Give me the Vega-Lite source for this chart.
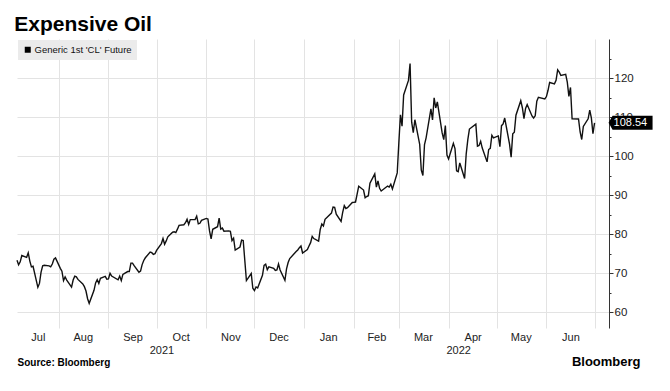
{
  "$schema": "https://vega.github.io/schema/vega-lite/v6.json",
  "width": 592,
  "height": 289,
  "autosize": "none",
  "padding": {"left": 17, "top": 39, "right": 61, "bottom": 63},
  "background": "white",
  "title": {"text": "Expensive Oil", "anchor": "start", "font": "Liberation Sans", "fontSize": 21, "fontWeight": "bold", "color": "#000", "offset": 4},
  "config": {"view": {"stroke": null}},
  "layer": [
    {
      "data": {"values": [
        {"date": "2021-07-06", "price": 73.37}, {"date": "2021-07-07", "price": 72.20}, {"date": "2021-07-08", "price": 72.94}, {"date": "2021-07-09", "price": 74.56}, {"date": "2021-07-12", "price": 74.10}, {"date": "2021-07-13", "price": 75.25}, {"date": "2021-07-14", "price": 73.13}, {"date": "2021-07-15", "price": 71.65}, {"date": "2021-07-16", "price": 71.81}, {"date": "2021-07-19", "price": 66.42}, {"date": "2021-07-20", "price": 67.42}, {"date": "2021-07-21", "price": 70.30}, {"date": "2021-07-22", "price": 71.91}, {"date": "2021-07-23", "price": 72.07}, {"date": "2021-07-26", "price": 71.91}, {"date": "2021-07-27", "price": 71.65}, {"date": "2021-07-28", "price": 72.39}, {"date": "2021-07-29", "price": 73.62}, {"date": "2021-07-30", "price": 73.95},
        {"date": "2021-08-02", "price": 71.26}, {"date": "2021-08-03", "price": 70.56}, {"date": "2021-08-04", "price": 68.15}, {"date": "2021-08-05", "price": 69.09}, {"date": "2021-08-06", "price": 68.28}, {"date": "2021-08-09", "price": 66.48}, {"date": "2021-08-10", "price": 68.29}, {"date": "2021-08-11", "price": 69.25}, {"date": "2021-08-12", "price": 69.09}, {"date": "2021-08-13", "price": 68.44}, {"date": "2021-08-16", "price": 67.29}, {"date": "2021-08-17", "price": 66.59}, {"date": "2021-08-18", "price": 65.46}, {"date": "2021-08-19", "price": 63.50}, {"date": "2021-08-20", "price": 62.32}, {"date": "2021-08-23", "price": 65.64}, {"date": "2021-08-24", "price": 67.54}, {"date": "2021-08-25", "price": 68.36}, {"date": "2021-08-26", "price": 67.42}, {"date": "2021-08-27", "price": 68.74}, {"date": "2021-08-30", "price": 69.21}, {"date": "2021-08-31", "price": 68.50},
        {"date": "2021-09-01", "price": 68.59}, {"date": "2021-09-02", "price": 69.99}, {"date": "2021-09-03", "price": 69.29}, {"date": "2021-09-07", "price": 68.35}, {"date": "2021-09-08", "price": 69.30}, {"date": "2021-09-09", "price": 68.14}, {"date": "2021-09-10", "price": 69.72}, {"date": "2021-09-13", "price": 70.45}, {"date": "2021-09-14", "price": 70.46}, {"date": "2021-09-15", "price": 72.61}, {"date": "2021-09-16", "price": 72.61}, {"date": "2021-09-17", "price": 71.97}, {"date": "2021-09-20", "price": 70.29}, {"date": "2021-09-21", "price": 70.56}, {"date": "2021-09-22", "price": 72.23}, {"date": "2021-09-23", "price": 73.30}, {"date": "2021-09-24", "price": 73.98}, {"date": "2021-09-27", "price": 75.45}, {"date": "2021-09-28", "price": 75.29}, {"date": "2021-09-29", "price": 74.83}, {"date": "2021-09-30", "price": 75.03},
        {"date": "2021-10-01", "price": 75.88}, {"date": "2021-10-04", "price": 77.62}, {"date": "2021-10-05", "price": 78.93}, {"date": "2021-10-06", "price": 77.43}, {"date": "2021-10-07", "price": 78.30}, {"date": "2021-10-08", "price": 79.35}, {"date": "2021-10-11", "price": 80.52}, {"date": "2021-10-12", "price": 80.64}, {"date": "2021-10-13", "price": 80.44}, {"date": "2021-10-14", "price": 81.31}, {"date": "2021-10-15", "price": 82.28}, {"date": "2021-10-18", "price": 82.44}, {"date": "2021-10-19", "price": 82.96}, {"date": "2021-10-20", "price": 83.87}, {"date": "2021-10-21", "price": 82.50}, {"date": "2021-10-22", "price": 83.76}, {"date": "2021-10-25", "price": 83.76}, {"date": "2021-10-26", "price": 84.65}, {"date": "2021-10-27", "price": 82.66}, {"date": "2021-10-28", "price": 82.81}, {"date": "2021-10-29", "price": 83.57},
        {"date": "2021-11-01", "price": 84.05}, {"date": "2021-11-02", "price": 83.91}, {"date": "2021-11-03", "price": 80.86}, {"date": "2021-11-04", "price": 78.81}, {"date": "2021-11-05", "price": 81.27}, {"date": "2021-11-08", "price": 81.93}, {"date": "2021-11-09", "price": 84.15}, {"date": "2021-11-10", "price": 81.34}, {"date": "2021-11-11", "price": 81.59}, {"date": "2021-11-12", "price": 80.79}, {"date": "2021-11-15", "price": 80.88}, {"date": "2021-11-16", "price": 80.76}, {"date": "2021-11-17", "price": 78.36}, {"date": "2021-11-18", "price": 79.01}, {"date": "2021-11-19", "price": 75.94}, {"date": "2021-11-22", "price": 76.75}, {"date": "2021-11-23", "price": 78.50}, {"date": "2021-11-24", "price": 78.39}, {"date": "2021-11-26", "price": 68.15}, {"date": "2021-11-29", "price": 69.95}, {"date": "2021-11-30", "price": 66.18},
        {"date": "2021-12-01", "price": 65.57}, {"date": "2021-12-02", "price": 66.50}, {"date": "2021-12-03", "price": 66.26}, {"date": "2021-12-06", "price": 69.49}, {"date": "2021-12-07", "price": 72.05}, {"date": "2021-12-08", "price": 72.36}, {"date": "2021-12-09", "price": 70.94}, {"date": "2021-12-10", "price": 71.67}, {"date": "2021-12-13", "price": 71.29}, {"date": "2021-12-14", "price": 70.73}, {"date": "2021-12-15", "price": 70.87}, {"date": "2021-12-16", "price": 72.38}, {"date": "2021-12-17", "price": 70.86}, {"date": "2021-12-20", "price": 68.23}, {"date": "2021-12-21", "price": 71.12}, {"date": "2021-12-22", "price": 72.76}, {"date": "2021-12-23", "price": 73.79}, {"date": "2021-12-27", "price": 75.57}, {"date": "2021-12-28", "price": 75.98}, {"date": "2021-12-29", "price": 76.56}, {"date": "2021-12-30", "price": 76.99}, {"date": "2021-12-31", "price": 75.21},
        {"date": "2022-01-03", "price": 76.08}, {"date": "2022-01-04", "price": 76.99}, {"date": "2022-01-05", "price": 77.85}, {"date": "2022-01-06", "price": 79.46}, {"date": "2022-01-07", "price": 78.90}, {"date": "2022-01-10", "price": 78.23}, {"date": "2022-01-11", "price": 81.22}, {"date": "2022-01-12", "price": 82.64}, {"date": "2022-01-13", "price": 82.12}, {"date": "2022-01-14", "price": 83.82}, {"date": "2022-01-18", "price": 85.43}, {"date": "2022-01-19", "price": 86.96}, {"date": "2022-01-20", "price": 86.90}, {"date": "2022-01-21", "price": 85.14}, {"date": "2022-01-24", "price": 83.31}, {"date": "2022-01-25", "price": 85.60}, {"date": "2022-01-26", "price": 87.35}, {"date": "2022-01-27", "price": 86.61}, {"date": "2022-01-28", "price": 86.82}, {"date": "2022-01-31", "price": 88.15},
        {"date": "2022-02-01", "price": 88.20}, {"date": "2022-02-02", "price": 88.26}, {"date": "2022-02-03", "price": 90.27}, {"date": "2022-02-04", "price": 92.31}, {"date": "2022-02-07", "price": 91.32}, {"date": "2022-02-08", "price": 89.36}, {"date": "2022-02-09", "price": 89.66}, {"date": "2022-02-10", "price": 89.88}, {"date": "2022-02-11", "price": 93.10}, {"date": "2022-02-14", "price": 95.46}, {"date": "2022-02-15", "price": 92.07}, {"date": "2022-02-16", "price": 93.66}, {"date": "2022-02-17", "price": 91.76}, {"date": "2022-02-18", "price": 91.07}, {"date": "2022-02-22", "price": 92.35}, {"date": "2022-02-23", "price": 92.10}, {"date": "2022-02-24", "price": 92.81}, {"date": "2022-02-25", "price": 91.59}, {"date": "2022-02-28", "price": 95.72},
        {"date": "2022-03-01", "price": 103.41}, {"date": "2022-03-02", "price": 110.60}, {"date": "2022-03-03", "price": 107.67}, {"date": "2022-03-04", "price": 115.68}, {"date": "2022-03-07", "price": 119.40}, {"date": "2022-03-08", "price": 123.70}, {"date": "2022-03-09", "price": 108.70}, {"date": "2022-03-10", "price": 106.02}, {"date": "2022-03-11", "price": 109.33}, {"date": "2022-03-14", "price": 103.01}, {"date": "2022-03-15", "price": 96.44}, {"date": "2022-03-16", "price": 95.04}, {"date": "2022-03-17", "price": 102.98}, {"date": "2022-03-18", "price": 104.70}, {"date": "2022-03-21", "price": 112.12}, {"date": "2022-03-22", "price": 109.27}, {"date": "2022-03-23", "price": 114.93}, {"date": "2022-03-24", "price": 112.34}, {"date": "2022-03-25", "price": 113.90}, {"date": "2022-03-28", "price": 105.96}, {"date": "2022-03-29", "price": 104.24}, {"date": "2022-03-30", "price": 107.82}, {"date": "2022-03-31", "price": 100.28},
        {"date": "2022-04-01", "price": 99.27}, {"date": "2022-04-04", "price": 103.28}, {"date": "2022-04-05", "price": 101.96}, {"date": "2022-04-06", "price": 96.23}, {"date": "2022-04-07", "price": 96.03}, {"date": "2022-04-08", "price": 98.26}, {"date": "2022-04-11", "price": 94.29}, {"date": "2022-04-12", "price": 100.60}, {"date": "2022-04-13", "price": 104.25}, {"date": "2022-04-14", "price": 106.95}, {"date": "2022-04-18", "price": 108.21}, {"date": "2022-04-19", "price": 102.56}, {"date": "2022-04-20", "price": 102.75}, {"date": "2022-04-21", "price": 103.79}, {"date": "2022-04-22", "price": 102.07}, {"date": "2022-04-25", "price": 98.54}, {"date": "2022-04-26", "price": 101.70}, {"date": "2022-04-27", "price": 102.02}, {"date": "2022-04-28", "price": 105.36}, {"date": "2022-04-29", "price": 104.69},
        {"date": "2022-05-02", "price": 105.17}, {"date": "2022-05-03", "price": 102.41}, {"date": "2022-05-04", "price": 107.81}, {"date": "2022-05-05", "price": 108.26}, {"date": "2022-05-06", "price": 109.77}, {"date": "2022-05-09", "price": 103.09}, {"date": "2022-05-10", "price": 99.76}, {"date": "2022-05-11", "price": 105.71}, {"date": "2022-05-12", "price": 106.13}, {"date": "2022-05-13", "price": 110.49}, {"date": "2022-05-16", "price": 114.20}, {"date": "2022-05-17", "price": 112.40}, {"date": "2022-05-18", "price": 109.59}, {"date": "2022-05-19", "price": 112.21}, {"date": "2022-05-20", "price": 113.23}, {"date": "2022-05-23", "price": 110.29}, {"date": "2022-05-24", "price": 109.77}, {"date": "2022-05-25", "price": 110.33}, {"date": "2022-05-26", "price": 114.09}, {"date": "2022-05-27", "price": 115.07}, {"date": "2022-05-31", "price": 114.67},
        {"date": "2022-06-01", "price": 115.26}, {"date": "2022-06-02", "price": 116.87}, {"date": "2022-06-03", "price": 118.87}, {"date": "2022-06-06", "price": 118.50}, {"date": "2022-06-07", "price": 119.41}, {"date": "2022-06-08", "price": 122.11}, {"date": "2022-06-09", "price": 121.51}, {"date": "2022-06-10", "price": 120.67}, {"date": "2022-06-13", "price": 120.93}, {"date": "2022-06-14", "price": 118.93}, {"date": "2022-06-15", "price": 115.31}, {"date": "2022-06-16", "price": 117.59}, {"date": "2022-06-17", "price": 109.56}, {"date": "2022-06-21", "price": 109.52}, {"date": "2022-06-22", "price": 106.19}, {"date": "2022-06-23", "price": 104.27}, {"date": "2022-06-24", "price": 107.62}, {"date": "2022-06-27", "price": 109.57}, {"date": "2022-06-28", "price": 111.76}, {"date": "2022-06-29", "price": 109.78}, {"date": "2022-06-30", "price": 105.76}, {"date": "2022-07-01", "price": 108.54}
      ]},
      "mark": {"type": "line", "strokeWidth": 1.4, "color": "#111"},
      "encoding": {
        "x": {
          "field": "date", "type": "temporal",
          "scale": {"type": "utc", "domain": [{"year": 2021, "month": 7, "date": 6, "utc": true}, {"year": 2022, "month": 7, "date": 10, "utc": true}]},
          "axis": {
            "values": [
              {"year": 2021, "month": 7, "date": 19, "utc": true},
              {"year": 2021, "month": 8, "date": 1, "utc": true}, {"year": 2021, "month": 8, "date": 16, "utc": true},
              {"year": 2021, "month": 9, "date": 1, "utc": true}, {"year": 2021, "month": 9, "date": 16, "utc": true},
              {"year": 2021, "month": 10, "date": 1, "utc": true}, {"year": 2021, "month": 10, "date": 4, "utc": true}, {"year": 2021, "month": 10, "date": 16, "utc": true},
              {"year": 2021, "month": 11, "date": 1, "utc": true}, {"year": 2021, "month": 11, "date": 16, "utc": true},
              {"year": 2021, "month": 12, "date": 1, "utc": true}, {"year": 2021, "month": 12, "date": 16, "utc": true},
              {"year": 2022, "month": 1, "date": 1, "utc": true}, {"year": 2022, "month": 1, "date": 16, "utc": true},
              {"year": 2022, "month": 2, "date": 1, "utc": true}, {"year": 2022, "month": 2, "date": 15, "utc": true},
              {"year": 2022, "month": 3, "date": 1, "utc": true}, {"year": 2022, "month": 3, "date": 16, "utc": true},
              {"year": 2022, "month": 4, "date": 1, "utc": true}, {"year": 2022, "month": 4, "date": 7, "utc": true}, {"year": 2022, "month": 4, "date": 16, "utc": true},
              {"year": 2022, "month": 5, "date": 1, "utc": true}, {"year": 2022, "month": 5, "date": 16, "utc": true},
              {"year": 2022, "month": 6, "date": 1, "utc": true}, {"year": 2022, "month": 6, "date": 16, "utc": true},
              {"year": 2022, "month": 7, "date": 1, "utc": true}
            ],
            "tickCount": 200,
            "labelExpr": "utcdate(datum.value) == 1 ? '' : (utcdate(datum.value) < 10 ? utcFormat(datum.value, '%Y') : utcFormat(datum.value, '%b'))",
            "labelPadding": {"condition": {"test": "utcdate(datum.value) > 1 && utcdate(datum.value) < 10", "value": 16}, "value": 3},
            "labelOverlap": false,
            "labelFlush": false,
            "labelBound": false,
            "labelFont": "Liberation Sans",
            "labelFontSize": 11,
            "labelColor": "#222",
            "ticks": false,
            "domain": false,
            "grid": true,
            "gridColor": "#e3e3e3",
            "gridWidth": 1,
            "gridOpacity": {"condition": {"test": "utcdate(datum.value) == 1", "value": 1}, "value": 0},
            "title": "Source: Bloomberg",
            "titleFont": "Liberation Sans",
            "titleFontSize": 10,
            "titleFontWeight": "bold",
            "titleColor": "#000",
            "titleAnchor": "start",
            "titleAlign": "left",
            "titleBaseline": "middle",
            "titleX": 0,
            "titleY": 34
          }
        },
        "y": {
          "field": "price", "type": "quantitative",
          "scale": {"domain": [56, 130], "nice": false, "zero": false},
          "axis": {
            "orient": "right",
            "values": [60, 65, 70, 75, 80, 85, 90, 95, 100, 105, 110, 115, 120, 125],
            "tickCount": 200,
            "format": "d",
            "labelExpr": "datum.value % 10 == 0 ? datum.label : ''",
            "labelFont": "Liberation Sans",
            "labelFontSize": 11.5,
            "labelColor": "#222",
            "labelPadding": 1,
            "tickSize": {"condition": {"test": "datum.value % 10 == 0", "value": 4}, "value": 2},
            "tickColor": "#333",
            "domainColor": "#333",
            "grid": true,
            "gridColor": "#e3e3e3",
            "gridOpacity": {"condition": {"test": "datum.value % 10 == 0", "value": 1}, "value": 0},
            "title": "Bloomberg",
            "titleFont": "Liberation Sans",
            "titleFontSize": 13,
            "titleFontWeight": "bold",
            "titleColor": "#000",
            "titleAngle": 0,
            "titleAlign": "right",
            "titleBaseline": "middle",
            "titleX": 31,
            "titleY": 322
          }
        },
        "color": {
          "datum": "Generic 1st 'CL' Future",
          "type": "nominal",
          "scale": {"range": ["#111111"]},
          "legend": {
            "title": null,
            "orient": "top-left",
            "offset": 1,
            "padding": 5,
            "fillColor": "#ebebeb",
            "symbolType": "square",
            "symbolSize": 36,
            "symbolFillColor": "#000",
            "symbolStrokeColor": "#000",
            "symbolStrokeWidth": 0,
            "labelFont": "Liberation Sans",
            "labelFontSize": 9.5,
            "labelColor": "#111",
            "labelOffset": 2
          }
        }
      }
    },
    {
      "data": {"values": [{"date": "2022-07-01", "price": 108.54}]},
      "mark": {"type": "point", "shape": "M1.4,0L1.8,-0.7L5.8,-0.7L5.8,0.7L1.8,0.7Z", "size": 400, "filled": true, "color": "#000", "opacity": 1, "clip": false},
      "encoding": {
        "x": {"field": "date", "type": "temporal"},
        "y": {"field": "price", "type": "quantitative"}
      }
    },
    {
      "data": {"values": [{"date": "2022-07-01", "price": 108.54}]},
      "mark": {"type": "text", "dx": 19, "align": "left", "baseline": "middle", "color": "#fff", "font": "Liberation Sans", "fontSize": 11},
      "encoding": {
        "x": {"field": "date", "type": "temporal"},
        "y": {"field": "price", "type": "quantitative"},
        "text": {"field": "price", "type": "quantitative", "format": ".2f"}
      }
    }
  ]
}
